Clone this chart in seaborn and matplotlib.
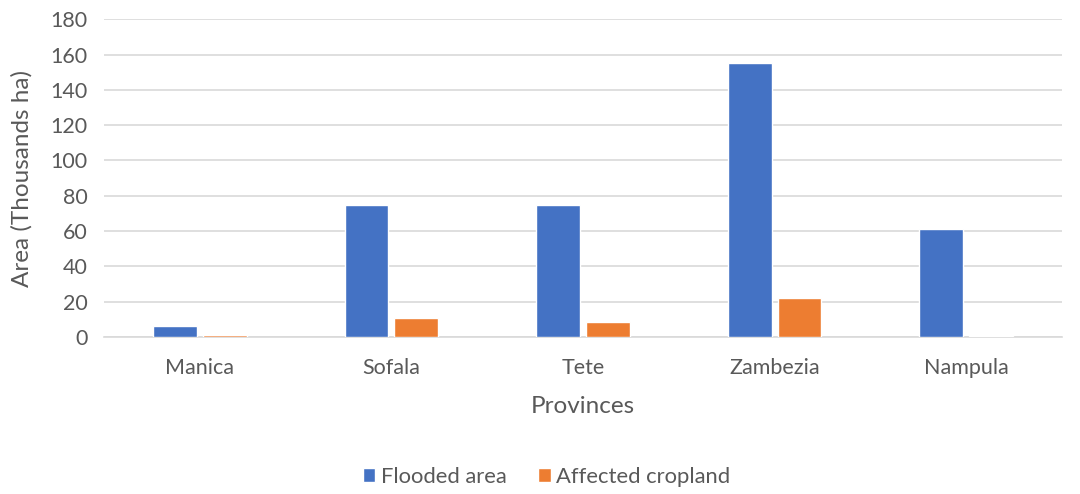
import matplotlib
matplotlib.use("Agg")
import matplotlib.pyplot as plt
import seaborn as sns
import pandas as pd

provinces = ["Manica", "Sofala", "Tete", "Zambezia", "Nampula"]
flooded_area = [6.1, 74.7, 74.5, 155.4, 61.3]
affected_cropland = [1.0, 10.6, 8.2, 21.9, 0.4]
series_names = ["Flooded area", "Affected cropland"]
yticks = [0, 20, 40, 60, 80, 100, 120, 140, 160, 180]

df = pd.DataFrame({
    "Province": provinces * 2,
    "Series": [series_names[0]] * len(provinces) + [series_names[1]] * len(provinces),
    "Value": flooded_area + affected_cropland,
})

sns.set_theme(style="white")
plt.rcParams["font.family"] = ["Lato", "DejaVu Sans"]
text_color = "#595959"

fig = plt.figure(figsize=(10.8, 4.94), dpi=100)
ax = fig.add_axes([0.0963, 0.318, 0.887, 0.643])

sns.barplot(data=df, x="Province", y="Value", hue="Series",
            palette=["#4472C4", "#ED7D31"], width=0.52, gap=0.12,
            saturation=1, ax=ax, zorder=3)

ax.set_ylim(0, 180)
ax.set_yticks(yticks)
ax.set_xlim(-0.5, len(provinces) - 0.5)
ax.yaxis.grid(True, color="#D9D9D9", linewidth=1.2, zorder=0)
ax.set_axisbelow(True)
for s in ["top", "right", "left"]:
    ax.spines[s].set_visible(False)
ax.spines["bottom"].set_color("#D9D9D9")
ax.spines["bottom"].set_linewidth(1.2)

ax.tick_params(axis="both", length=0, labelsize=15.5, colors=text_color)
ax.tick_params(axis="x", pad=15)
ax.tick_params(axis="y", pad=12)
ax.set_ylabel("Area (Thousands ha)", fontsize=17.5, color=text_color)
ax.set_xlabel("Provinces", fontsize=17.5, color=text_color)
ax.yaxis.set_label_coords(-0.075, 0.5)
ax.xaxis.set_label_coords(0.5, -0.185)

handles, labels = ax.get_legend_handles_labels()
ax.legend(handles, labels, loc="center", bbox_to_anchor=(0.462, -0.44),
          ncol=2, frameon=False, fontsize=15.8, labelcolor=text_color,
          handlelength=0.56, handleheight=0.56, handletextpad=0.25,
          columnspacing=1.45)

fig.savefig("out.png", dpi=100)
